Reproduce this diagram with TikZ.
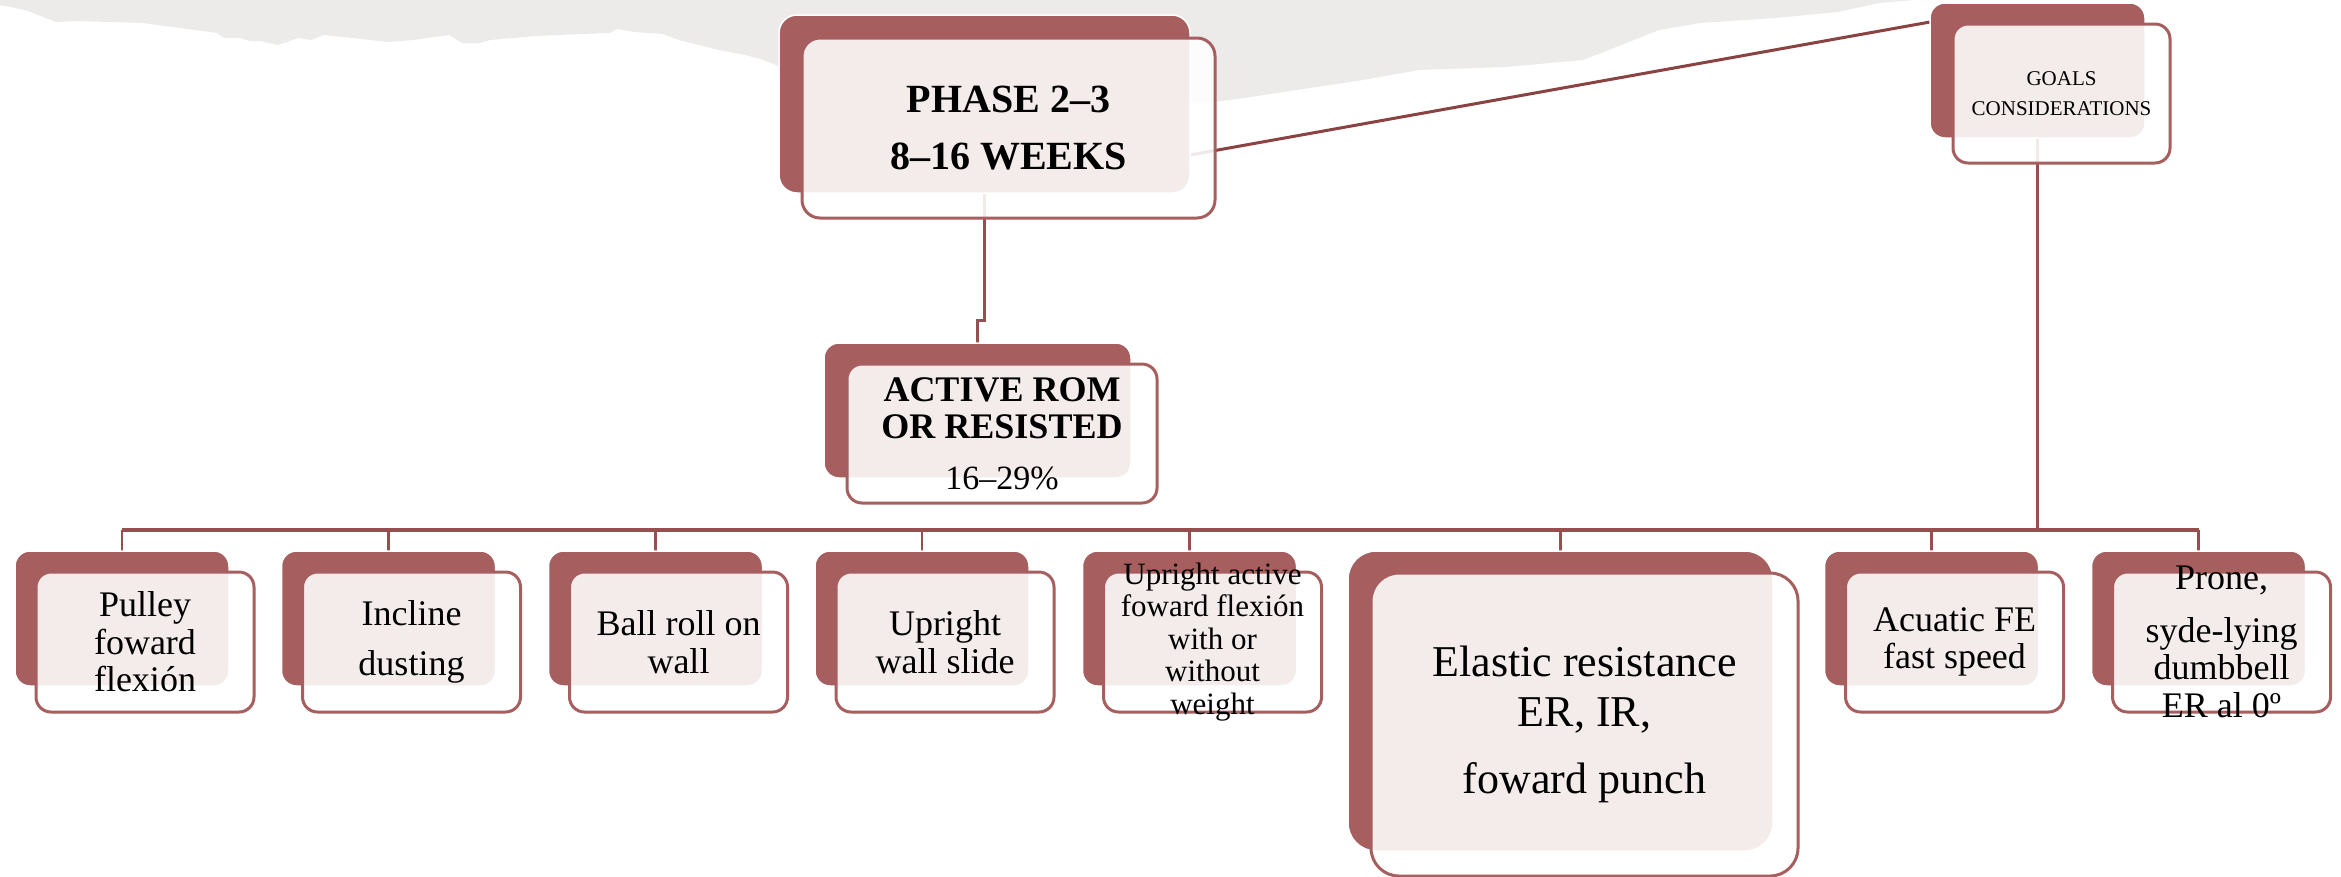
\documentclass[tikz,border=0pt]{standalone}
\usepackage{fontspec}
\setmainfont{Liberation Serif}
\usetikzlibrary{calc}
\definecolor{boxred}{RGB}{166,94,94}
\definecolor{linkred}{RGB}{150,78,78}
\definecolor{diagred}{RGB}{138,66,66}
\definecolor{paper}{RGB}{236,235,233}
\pgfdeclarelayer{paperlayer}
\pgfdeclarelayer{linklayer}
\pgfsetlayers{paperlayer,linklayer,main}
\begin{document}
\begin{tikzpicture}[x=1pt,y=-1pt,
  backbox/.style={fill=boxred, draw=white, line width=1.5pt, rounded corners=15pt, inner sep=0pt, outer sep=0pt},
  frontbox/.style={fill=white, fill opacity=0.88, draw=boxred, line width=3pt, rounded corners=15pt, inner sep=0pt, outer sep=0pt},
  link/.style={draw=linkred, line width=3pt},
  tick/.style={draw=linkred, line width=2.5pt},
  boxtext/.style={align=center, inner sep=0pt, text=black, font=\fontsize{36}{37.5}\selectfont}]
\useasboundingbox (0,0) rectangle (2341,876);

% torn paper strip along the top edge
\begin{pgfonlayer}{paperlayer}
\fill[paper] (0,0) -- (0,5) -- (25,10) -- (56,22) -- (76,21) -- (143,23) -- (217,33) -- (224,38)
  -- (240,38) -- (250,41) -- (260,41) -- (278,45) -- (298,38) -- (311,40) -- (324,35) -- (352,38)
  -- (388,42) -- (413,40) -- (449,35) -- (462,43) -- (480,43) -- (490,40) -- (536,36) -- (582,34)
  -- (610,33) -- (617,29) -- (635,32) -- (663,34) -- (679,40) -- (719,50) -- (745,55) -- (760,59)
  -- (776,65) -- (800,80) -- (1200,103) -- (1231,100) -- (1277,93) -- (1363,80) -- (1419,70)
  -- (1506,67) -- (1583,60) -- (1634,40) -- (1659,30) -- (1700,23) -- (1776,18) -- (1838,12)
  -- (1879,3) -- (1914,0) -- cycle;
\end{pgfonlayer}

% top level
\node[backbox, rounded corners=18pt, minimum width=411, minimum height=178] (pb) at (984.5,104) {};
\node[frontbox, rounded corners=18pt, minimum width=413, minimum height=180] (pf) at (1008.5,128) {};
\node[boxtext, font=\bfseries\fontsize{40}{57}\selectfont] (pt) at (pf.center) {PHASE 2–3\\8–16 WEEKS};

\node[backbox, minimum width=215, minimum height=135] (gb) at (2037.5,70.5) {};
\node[frontbox, minimum width=217, minimum height=139] (gf) at (2061.5,93.5) {};
\node[boxtext, font=\fontsize{21}{30}\selectfont] (gt) at (gf.center) {GOALS\\CONSIDERATIONS};

\node[backbox, minimum width=307, minimum height=135] (ab) at (977.5,410.5) {};
\node[frontbox, minimum width=310, minimum height=139] (af) at (1002,433.5) {};
\node[boxtext, font=\fontsize{36}{37}\selectfont] (at) at (af.center)
  {\textbf{ACTIVE ROM}\\\textbf{OR RESISTED}\\[14pt]{\fontsize{34}{37}\selectfont 16–29\%}};

% exercise boxes
\foreach \i/\x in {1/122, 2/388.5, 3/655.5, 4/922, 5/1189.5, 7/1931.5, 8/2198.5} {
  \node[backbox, minimum width=214, minimum height=135] (b\i) at (\x,618.5) {};
  \node[frontbox, minimum width=218, minimum height=140] (f\i) at (\x+23,642) {};
}
\node[backbox, rounded corners=28pt, minimum width=425, minimum height=300] (b6) at (1560.5,701) {};
\node[frontbox, rounded corners=28pt, minimum width=427, minimum height=303] (f6) at (1584.5,724.5) {};

\node[boxtext] (t1) at (f1.center) {Pulley\\foward\\flexión};
\node[boxtext] (t2) at (f2.center) {Incline\\[12pt]dusting};
\node[boxtext] (t3) at (f3.center) {Ball roll on\\wall};
\node[boxtext] (t4) at (f4.center) {Upright\\wall slide};
\node[boxtext, font=\fontsize{31}{32.5}\selectfont] (t5) at (f5.center)
  {Upright active\\foward flexión\\with or\\without\\weight};
\node[boxtext, font=\fontsize{44}{50}\selectfont] (t6) at (f6.center)
  {Elastic resistance\\ER, IR,\\[17pt]foward punch};
\node[boxtext] (t7) at (f7.center) {Acuatic FE\\fast speed};
\node[boxtext] (t8) at (f8.center) {Prone,\\[15pt]syde-lying\\dumbbell\\ER al 0º};

% connectors
\begin{pgfonlayer}{linklayer}
\coordinate (pe) at ($(pb.south east)+(0,-38)$);
\coordinate (ge) at ($(gb.north west)+(0,19)$);
\draw[link, draw=diagred] (pe) -- (ge);
\draw[link] (pb.south) -- ++(0,127) -| (ab.north);
\coordinate (busL) at (122,530);
\coordinate (busR) at (2199,530);
\draw[link] (gb.south) -- (gb.south |- busL);
\draw[link, line width=3.5pt] (busL) -- (busR);
\foreach \i in {1,...,8} {
  \draw[tick] (b\i.north |- busL) -- (b\i.north);
}
\end{pgfonlayer}
\end{tikzpicture}
\end{document}
